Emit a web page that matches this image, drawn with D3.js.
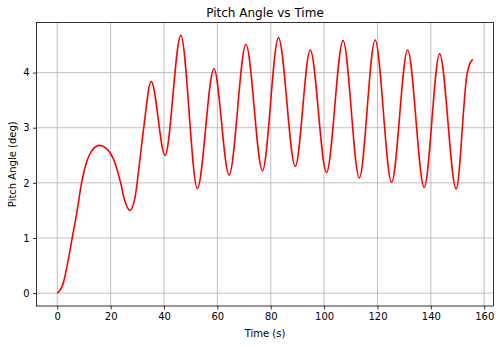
<!DOCTYPE html>
<html>
<head>
<meta charset="utf-8">
<script src="https://cdn.jsdelivr.net/npm/d3@7"></script>
<style>
  body { margin: 0; background: #fff; }
  svg { font-family: "DejaVu Sans", sans-serif; }
</style>
</head>
<body>
<div class="chart"></div>
<script>
// values
const time = [0, 2.25, 4.1, 5.6, 7.3, 9.1, 11.0, 12.9, 15.8, 18.5, 21.0, 23.5, 25.4, 27.2,
  29.2, 30.8, 32.3, 35.2, 40.4, 46.3, 52.5, 58.7, 64.4, 70.7, 76.9, 82.9, 89.2, 94.8,
  100.9, 107.1, 113.2, 119.1, 125.3, 131.3, 137.5, 143.3, 149.5, 153.6, 154.6, 155.7]
const pitch = [0, 0.18, 0.60, 1.0, 1.45, 2.0, 2.38, 2.58, 2.68, 2.62, 2.44, 2.05, 1.66, 1.50,
  1.75, 2.35, 2.96, 3.84, 2.50, 4.675, 1.90, 4.07, 2.14, 4.51, 2.22, 4.63, 2.30, 4.41,
  2.19, 4.58, 2.09, 4.59, 2.01, 4.41, 1.92, 4.34, 1.89, 3.98, 4.16, 4.24]
const xTicks = [0, 20, 40, 60, 80, 100, 120, 140, 160]
const yTicks = [0, 1, 2, 3, 4]

const data = time.map((t, i) => ({t: t, v: pitch[i]}))

const svg = d3.select(".chart").append("svg")
  .attr("width", 500)
  .attr("height", 347)

const plot = {left: 36.5, right: 493.5, top: 22.5, bottom: 306}

// matplotlib style 5% margins
const tSpan = d3.max(time) - d3.min(time)
const vSpan = d3.max(pitch) - d3.min(pitch)
const x = d3.scaleLinear()
  .domain([d3.min(time) - tSpan * 0.05, d3.max(time) + tSpan * 0.05])
  .range([plot.left, plot.right])
const y = d3.scaleLinear()
  .domain([d3.min(pitch) - vSpan * 0.05, d3.max(pitch) + vSpan * 0.05])
  .range([plot.bottom, plot.top])

// grid
svg.append("g").selectAll("line")
  .data(xTicks)
  .enter().append("line")
  .attr("x1", d => x(d)).attr("x2", d => x(d))
  .attr("y1", plot.top).attr("y2", plot.bottom)
  .attr("stroke", "#b0b0b0").attr("stroke-width", 0.8)
svg.append("g").selectAll("line")
  .data(yTicks)
  .enter().append("line")
  .attr("x1", plot.left).attr("x2", plot.right)
  .attr("y1", d => y(d)).attr("y2", d => y(d))
  .attr("stroke", "#b0b0b0").attr("stroke-width", 0.8)

// line
const line = d3.line()
  .x(d => x(d.t))
  .y(d => y(d.v))
  .curve(d3.curveMonotoneX)

svg.append("path")
  .datum(data)
  .attr("fill", "none")
  .attr("stroke", "#ff0000")
  .attr("stroke-width", 1.6)
  .attr("d", line)

// axes
svg.append("g")
  .attr("transform", `translate(0, ${plot.bottom})`)
  .call(d3.axisBottom(x).tickValues(xTicks).tickFormat(d3.format("d"))
    .tickSize(3.5).tickPadding(3.5).tickSizeOuter(0))
svg.append("g")
  .attr("transform", `translate(${plot.left}, 0)`)
  .call(d3.axisLeft(y).tickValues(yTicks).tickFormat(d3.format("d"))
    .tickSize(3.5).tickPadding(3.5).tickSizeOuter(0))

svg.selectAll(".tick text")
  .attr("font-size", 10)
  .attr("font-family", "DejaVu Sans")
  .attr("fill", "#000")
svg.selectAll(".tick line").attr("stroke", "#000").attr("stroke-width", 0.8)
svg.selectAll(".domain").remove()

// frame
svg.append("rect")
  .attr("x", plot.left).attr("y", plot.top)
  .attr("width", plot.right - plot.left).attr("height", plot.bottom - plot.top)
  .attr("fill", "none")
  .attr("stroke", "#000")
  .attr("stroke-width", 0.8)

svg.append("text")
  .attr("x", (plot.left + plot.right) / 2)
  .attr("y", 16.5)
  .attr("text-anchor", "middle")
  .attr("font-size", 12)
  .text("Pitch Angle vs Time")

svg.append("text")
  .attr("x", (plot.left + plot.right) / 2)
  .attr("y", 337)
  .attr("text-anchor", "middle")
  .attr("font-size", 10)
  .text("Time (s)")

svg.append("text")
  .attr("transform", `translate(15.5, ${(plot.top + plot.bottom) / 2}) rotate(-90)`)
  .attr("text-anchor", "middle")
  .attr("font-size", 10)
  .text("Pitch Angle (deg)")
</script>
</body>
</html>
